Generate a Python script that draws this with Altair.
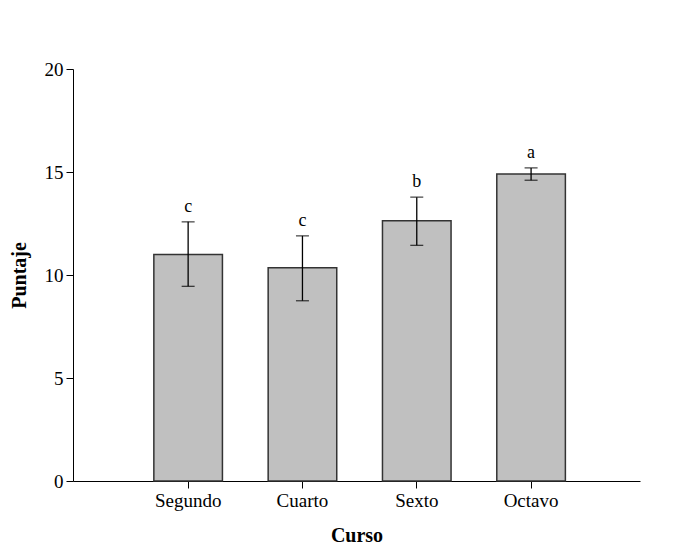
import altair as alt
import pandas as pd

cursos = ["Segundo", "Cuarto", "Sexto", "Octavo"]
medias = [11.0, 10.35, 12.63, 14.9]
err_sup = [12.58, 11.9, 13.78, 15.2]
err_inf = [9.45, 8.75, 11.44, 14.6]
letras = ["c", "c", "b", "a"]

df = pd.DataFrame({
    "Curso": cursos,
    "Puntaje": medias,
    "hi": err_sup,
    "lo": err_inf,
    "letra": letras,
})

FONT = "Liberation Serif"

x = alt.X("Curso:N", sort=cursos, title="Curso",
          scale=alt.Scale(paddingInner=0.4, paddingOuter=0.68, align=0.52),
          axis=alt.Axis(labelAngle=0, labelFont=FONT, labelFontSize=19, labelColor="black",
                        titleFont=FONT, titleFontSize=20, titleFontWeight="bold", titleColor="black",
                        domainColor="black", tickColor="black", tickSize=7, labelPadding=3,
                        titlePadding=15, grid=False))
y_scale = alt.Scale(domain=[0, 20], nice=False)

base = alt.Chart(df)

bars = base.mark_bar(color="#c0c0c0", stroke="#333333", strokeWidth=1.5).encode(
    x=x,
    y=alt.Y("Puntaje:Q", scale=y_scale, title="Puntaje",
            axis=alt.Axis(values=[0, 5, 10, 15, 20], labelFont=FONT, labelFontSize=19, labelColor="black",
                          titleFont=FONT, titleFontSize=20, titleFontWeight="bold", titleColor="black",
                          domainColor="black", tickColor="black", tickSize=7, labelPadding=3,
                          titlePadding=15, grid=False)),
)

rule = base.mark_rule(color="black", strokeWidth=1.3).encode(
    x=alt.X("Curso:N", sort=cursos), y=alt.Y("lo:Q", scale=y_scale), y2="hi:Q")
cap_hi = base.mark_tick(color="black", size=13, thickness=1.3, orient="horizontal").encode(
    x=alt.X("Curso:N", sort=cursos), y=alt.Y("hi:Q", scale=y_scale))
cap_lo = base.mark_tick(color="black", size=13, thickness=1.3, orient="horizontal").encode(
    x=alt.X("Curso:N", sort=cursos), y=alt.Y("lo:Q", scale=y_scale))
text = base.mark_text(font=FONT, fontSize=18, color="black", baseline="bottom", dy=-6).encode(
    x=alt.X("Curso:N", sort=cursos), y=alt.Y("hi:Q", scale=y_scale), text="letra:N")

chart = alt.layer(bars, rule, cap_hi, cap_lo, text).properties(
    width=567, height=412,
    autosize=alt.AutoSizeParams(type="none"),
    padding={"left": 65, "top": 61, "right": 43, "bottom": 67},
).configure(background="white").configure_view(strokeWidth=0, stroke=None)

chart.save("out.html", embed_options={"renderer": "svg", "actions": False})
